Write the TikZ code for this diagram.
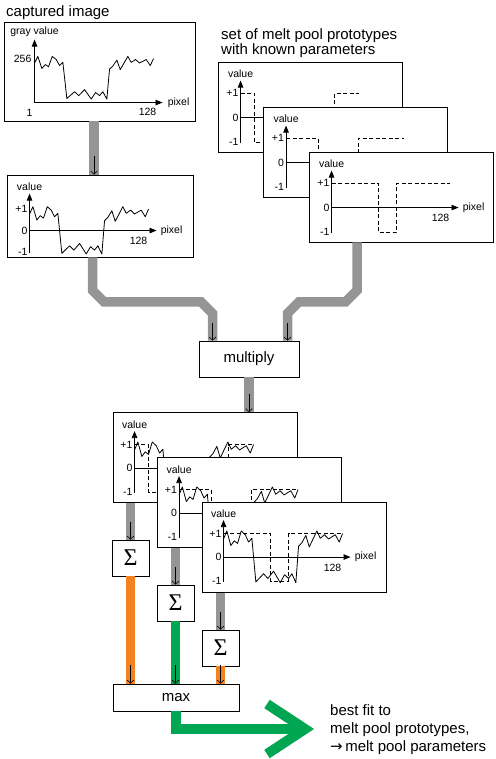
\documentclass[tikz,border=0pt]{standalone}
\usepackage{fontspec}
\setmainfont{Liberation Sans}
\newfontfamily\sigmafont{Liberation Serif}
\newfontfamily\arrowfont{DejaVu Sans}
\usepackage{tikz}
\usetikzlibrary{arrows.meta,calc}
\definecolor{bargray}{HTML}{959595}
\definecolor{sumorange}{HTML}{F58220}
\definecolor{sumgreen}{HTML}{00A651}

% sampled grey profile, x in pixel, y in value units
\newcommand{\drawsignal}{%
  \draw[sigline] (0,0.77) -- (3.3,1.11) -- (7.3,0.49) -- (10.7,0.69) -- (14,0.58)
    -- (17.7,1.11) -- (21.7,0.95) -- (25,0.64) -- (28.3,0.80) -- (32.3,-1.06)
    -- (36.7,-0.86) -- (40,-0.71) -- (44.3,-0.91) -- (50,-0.60) -- (56.7,-1.09)
    -- (61,-0.75) -- (65,-0.91) -- (68.3,-0.71) -- (72.3,-1.09) -- (75,0.46)
    -- (78.3,0.61) -- (82.3,0.92) -- (85.7,0.43) -- (93.3,1.11) -- (96.7,0.80)
    -- (101,0.95) -- (105,0.77) -- (111.7,0.95) -- (115.7,0.64) -- (119,1.0);}
\newcommand{\proto}[2]{%
  \draw[dashline] (0,1) -- (#1,1) -- (#1,-1.02) -- (#2,-1.02) -- (#2,1) -- (118,1);}
\newcommand{\valueaxes}{%
  \draw[axisline] (0,-1.05) -- (0,37pt);
  \draw[axisline] (0,0) -- (127,0);
  \node[lbl] at (0,43.5pt) {value};
  \node[lbl,left] at (0,1) {+1};
  \node[lbl,left] at (0,0) {0};
  \node[lbl,left] at (0,-1) {-1};
  \node[lbl] at (109,-10.5pt) {128};
  \node[lbl,right] at (129,0) {pixel};}

\begin{document}
\begin{tikzpicture}[x=1pt,y=-1pt,
  box/.style={draw,fill=white,line width=0.9pt,inner sep=0pt},
  plotbox/.style={box,minimum width=184pt,minimum height=90pt},
  opbox/.style={box,font=\fontsize{15}{18}\selectfont},
  sumbox/.style={box,minimum width=37pt,minimum height=36pt,font=\fontsize{24}{24}\sigmafont},
  lbl/.style={font=\fontsize{10.5}{12}\selectfont,inner sep=2pt},
  axisline/.style={line width=0.8pt,-{Triangle[length=7pt,width=5.5pt]}},
  sigline/.style={line width=0.8pt,line join=round},
  dashline/.style={line width=0.8pt,dash pattern=on 4pt off 2.5pt},
  greybar/.style={line width=9.5pt,draw=bargray},
  orangebar/.style={line width=9.5pt,draw=sumorange},
  greenbar/.style={line width=10pt,draw=sumgreen},
  feed/.style={line width=0.6pt,-{Straight Barb[length=3pt,width=6.5pt]}},
  title/.style={font=\fontsize{15}{15}\selectfont,inner sep=0pt,align=left}]
  \useasboundingbox (0,0) rectangle (495,759);

  \node[title,anchor=base west] (captitle) at (6,17) {captured image};
  \node[title,anchor=base west] (prototitle) at (221,55) {set of melt pool prototypes\\with known parameters};

  % captured image
  \node[box,minimum width=191pt,minimum height=99pt] (cap) at (99.5,71.5) {};
  \begin{scope}[shift={(cap.north west)},shift={(31,81)},y=19.4pt]
    \draw[axisline] (0,0) -- (0,63pt);
    \draw[axisline] (0,0) -- (128,0);
    \node[lbl] at (0,71pt) {gray value};
    \node[lbl,left,xshift=-1pt] at (0,44pt) {256};
    \node[lbl] at (-5,-10pt) {1};
    \node[lbl] at (113,-9.5pt) {128};
    \node[lbl,right] at (131,0) {pixel};
    \begin{scope}[yshift=24.6pt]
      \drawsignal
    \end{scope}
  \end{scope}

  \node[box,minimum width=186pt,minimum height=82pt] (val) at (100,216) {};
  \draw[greybar] ([xshift=-5.5pt]cap.south) -- ([xshift=-5.5pt]cap.south |- val.north);
  \draw[feed] ([xshift=-6pt,yshift=19pt]val.north) -- ([xshift=-6pt]val.north);
  \begin{scope}[shift={(val.north west)},shift={(23,56)},y=21.5pt]
    \valueaxes
    \drawsignal
  \end{scope}

  % prototypes
  \node[plotbox] (pA) at (310,107) {};
  \begin{scope}[shift={(pA.north west)},shift={(23,56)},y=24.5pt]
    \valueaxes
    \proto{14}{94}
  \end{scope}
  \node[plotbox] (pB) at (355.5,152) {};
  \begin{scope}[shift={(pB.north west)},shift={(23,56)},y=24.5pt]
    \valueaxes
    \proto{32}{72}
  \end{scope}
  \node[plotbox] (pC) at (401,197) {};
  \begin{scope}[shift={(pC.north west)},shift={(23,56)},y=24.5pt]
    \valueaxes
    \proto{47}{65}
  \end{scope}

  % multiply
  \node[opbox,minimum width=100pt,minimum height=36pt] (mult) at (249,359) {multiply};
  \draw[greybar] ([xshift=-7.5pt]val.south) -- ++(0,33) -- ++(11.5,11.5) -- ++(97,0)
    -- ++(11.5,11.5) -- ([xshift=-36.5pt]mult.north);
  \draw[greybar] ([xshift=-44pt]pC.south) -- ++(0,48) -- ++(-11.5,11.5) -- ++(-46.5,0)
    -- ++(-11.5,11.5) -- ([xshift=38.5pt]mult.north);
  \draw[feed] ([xshift=-36.5pt,yshift=18pt]mult.north) -- ([xshift=-36.5pt]mult.north);
  \draw[feed] ([xshift=38.5pt,yshift=18pt]mult.north) -- ([xshift=38.5pt]mult.north);

  % products
  \node[plotbox] (qA) at (205,457.5) {};
  \draw[greybar] (mult.south) -- (mult.south |- qA.north);
  \draw[feed] ([yshift=18pt]mult.south |- qA.north) -- (mult.south |- qA.north);
  \begin{scope}[shift={(qA.north west)},shift={(22,56)},y=23.5pt]
    \valueaxes
    \drawsignal
    \proto{14}{94}
  \end{scope}
  \node[plotbox] (qB) at (249.5,502.5) {};
  \begin{scope}[shift={(qB.north west)},shift={(22,56)},y=23.5pt]
    \valueaxes
    \drawsignal
    \proto{32}{72}
  \end{scope}
  \node[plotbox] (qC) at (294,547.5) {};
  \begin{scope}[shift={(qC.north west)},shift={(22,55)},y=23.5pt]
    \valueaxes
    \drawsignal
    \proto{47}{65}
  \end{scope}

  % sums
  \node[sumbox] (sA) at (130.5,558) {Σ};
  \node[sumbox] (sB) at (175.5,603) {Σ};
  \node[sumbox] (sC) at (220.5,648) {Σ};
  \foreach \q/\s in {qA/sA,qB/sB,qC/sC}{
    \draw[greybar] (\q.south -| \s.north) -- (\s.north);
    \draw[feed] ([yshift=18pt]\s.north) -- (\s.north);
  }

  % max
  \node[opbox,minimum width=126pt,minimum height=27pt] (max) at (176,697.5) {max};
  \draw[orangebar] (sA.south) -- (sA.south |- max.north);
  \draw[greenbar,line width=9.5pt] (sB.south) -- (sB.south |- max.north);
  \draw[orangebar] (sC.south) -- (sC.south |- max.north);
  \foreach \s in {sA,sB,sC}{
    \draw[feed] ([yshift=19pt]\s.south |- max.north) -- (\s.south |- max.north);
  }

  % result
  \coordinate (fitend) at (305,729);
  \draw[greenbar] (max.south) |- (fitend);
  \draw[greenbar] ($(fitend)+(-38,-25)$) -- (fitend) -- ($(fitend)+(-38,25)$);
  \node[font=\fontsize{15}{18}\selectfont,inner sep=0pt,align=left,anchor=base west] (fittext) at (330,751)
    {best fit to\\melt pool prototypes,\\{\arrowfont →}\,melt pool parameters};
\end{tikzpicture}
\end{document}
